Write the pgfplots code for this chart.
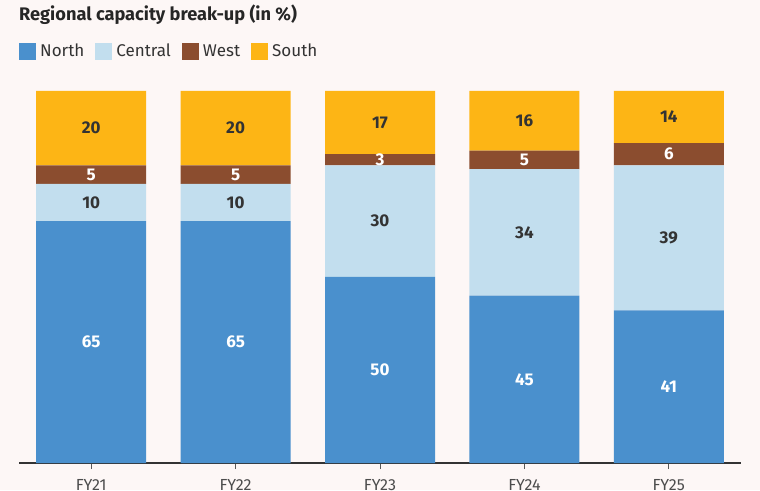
\documentclass[border=0pt]{standalone}
\usepackage{pgfplots}
\pgfplotsset{compat=1.18}
\usepackage{fontspec}
\setmainfont{Fira Sans}
\definecolor{bg}{RGB}{253,247,246}
\definecolor{cnorth}{RGB}{74,144,205}
\definecolor{ccentral}{RGB}{194,222,238}
\definecolor{cwest}{RGB}{139,77,47}
\definecolor{csouth}{RGB}{253,181,21}
\definecolor{txt}{RGB}{51,51,51}
\begin{document}
\begin{tikzpicture}
\fill[bg] (0,0) rectangle (760pt,490pt);
\node[anchor=base west, inner sep=0pt, font=\fontsize{18.2}{22}\selectfont\bfseries, text=black!85] at (19pt,469pt) {Regional capacity break-up (in \%)};
\begin{axis}[
  at={(19pt,27pt)}, anchor=south west,
  scale only axis, width=722pt, height=372pt,
  xmin=-0.5, xmax=4.5, ymin=0, ymax=100,
  ybar stacked, bar width=110pt,
  axis x line*=bottom, axis y line=none,
  x axis line style={line width=2.5pt, color=black!80},
  xtick={0,...,4}, xticklabels={FY21,FY22,FY23,FY24,FY25},
  tick align=outside, major tick length=6pt,
  tick style={line width=1pt, color=black!65},
  xticklabel style={font=\fontsize{16}{19}\selectfont, text=black!70, anchor=north, inner sep=0pt, yshift=-10pt},
  point meta=explicit symbolic,
  nodes near coords={\pgfplotspointmeta},
  every node near coord/.append style={anchor=center, font=\fontsize{17}{20}\selectfont\bfseries, text=txt},
  legend columns=4,
  legend style={draw=none, fill=none, at={(0,1.13)}, anchor=north west, inner sep=0pt, nodes={inner sep=0pt, anchor=west}, font=\fontsize{17}{21}\selectfont, text=black!80, /tikz/every odd column/.append style={column sep=4pt}, /tikz/every even column/.append style={column sep=11pt}},
]
\addplot[fill=cnorth, draw=none, every node near coord/.append style={text=white}, legend image code/.code={\fill[cnorth] (0pt,-8.5pt) rectangle (17pt,8.5pt);}] coordinates {(0,65)[65] (1,65)[65] (2,50)[50] (3,45)[45] (4,41)[41]};
\addplot[fill=ccentral, draw=none, legend image code/.code={\fill[ccentral] (0pt,-8.5pt) rectangle (17pt,8.5pt);}] coordinates {(0,10)[10] (1,10)[10] (2,30)[30] (3,34)[34] (4,39)[39]};
\addplot[fill=cwest, draw=none, every node near coord/.append style={text=white}, legend image code/.code={\fill[cwest] (0pt,-8.5pt) rectangle (17pt,8.5pt);}] coordinates {(0,5)[5] (1,5)[5] (2,3)[3] (3,5)[5] (4,6)[6]};
\addplot[fill=csouth, draw=none, legend image code/.code={\fill[csouth] (0pt,-8.5pt) rectangle (17pt,8.5pt);}] coordinates {(0,20)[20] (1,20)[20] (2,17)[17] (3,16)[16] (4,14)[14]};
\legend{North,Central,West,South}
\end{axis}
\pgfresetboundingbox
\useasboundingbox (0,0) rectangle (760pt,490pt);
\end{tikzpicture}
\end{document}
